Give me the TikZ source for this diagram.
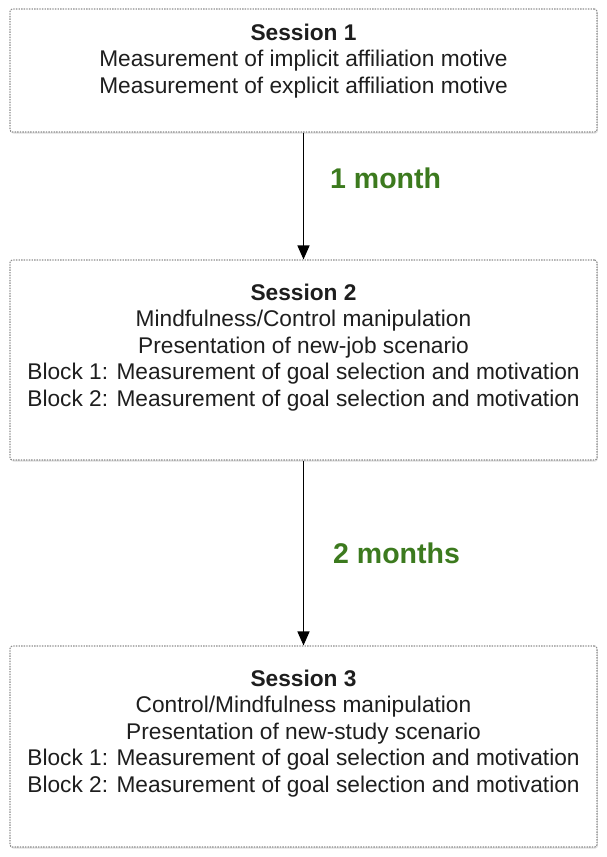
\documentclass[tikz,border=0pt]{standalone}
\usepackage{fontspec}
\setmainfont{Liberation Sans}
\usetikzlibrary{positioning,arrows.meta,shadows}
\definecolor{BoxLine}{HTML}{8C8C8C}
\definecolor{GapGreen}{HTML}{3C7A1E}
\definecolor{TextColor}{HTML}{1E1E1E}
\tikzstyle{session_box}=[rectangle,
        minimum width=587pt,
        draw=BoxLine,
        line width=1.1pt,
        dash pattern=on 1.4pt off 1.2pt,
        rounded corners=2.5,
        fill=white,
        drop shadow={shadow xshift=0.8pt, shadow yshift=-1.5pt, opacity=0.25}, ]
\tikzstyle{session_text}=[align=center, inner sep=0pt, text=TextColor,
        font=\fontsize{22.7}{26.5}\selectfont]
\tikzstyle{gap_label}=[inner sep=0pt, text=GapGreen,
        font=\fontsize{28.5}{30}\selectfont\bfseries]
\tikzstyle{gap_arrow}=[-{Triangle[width=12pt,length=14pt]}, line width=1.4pt, draw=black]

\begin{document}
\begin{tikzpicture}[x=1pt, y=-1pt]
    \useasboundingbox (0,0) rectangle (607,857);

    % session boxes
    \node at (303.5, 70.5) (S1) [session_box, minimum height=123pt] {};
    \node at (303.5, 360) (S2) [session_box, minimum height=200pt] {};
    \node at (303.5, 746.5) (S3) [session_box, minimum height=201pt] {};

    \node [session_text, below=15pt of S1.north] (T1) {\textbf{Session 1}\\
        Measurement of implicit affiliation motive\\
        Measurement of explicit affiliation motive};
    \node [session_text, below=24pt of S2.north] (T2) {\textbf{Session 2}\\
        Mindfulness/Control manipulation\\
        Presentation of new-job scenario\\
        Block 1: Measurement of goal selection and motivation\\
        Block 2: Measurement of goal selection and motivation};
    \node [session_text, below=24pt of S3.north] (T3) {\textbf{Session 3}\\
        Control/Mindfulness manipulation\\
        Presentation of new-study scenario\\
        Block 1: Measurement of goal selection and motivation\\
        Block 2: Measurement of goal selection and motivation};

    % time between sessions
    \draw [gap_arrow] (S1.south) -- node [gap_label, pos=0.36, right=26pt] (G1) {1 month} (S2.north);
    \draw [gap_arrow] (S2.south) -- node [gap_label, pos=0.5, right=29pt] (G2) {2 months} (S3.north);

\end{tikzpicture}
\end{document}
